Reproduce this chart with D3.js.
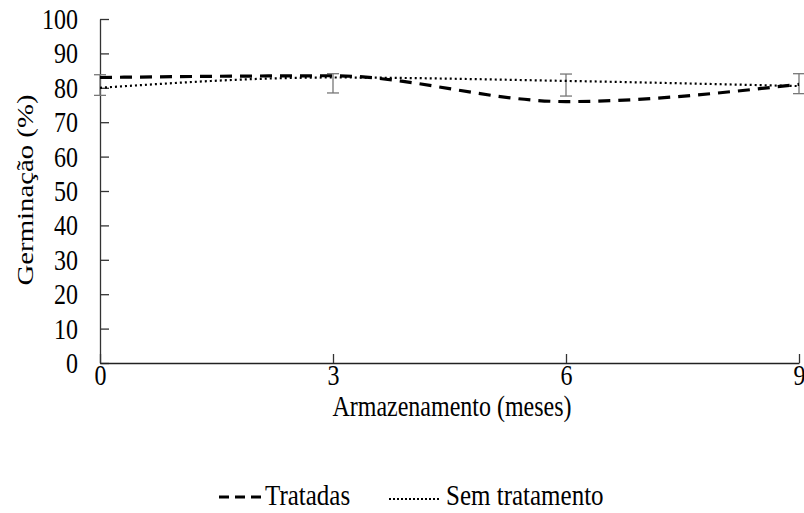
<!DOCTYPE html>
<html><head><meta charset="utf-8">
<script src="https://cdn.jsdelivr.net/npm/d3@7"></script>
</head><body style="margin:0;background:#fff">
<svg id="c" width="804" height="513" style="display:block"></svg>
<script>
const months = [0, 3, 6, 9];
const tratadas = [83, 83.5, 76, 81];
const semTratamento = [80, 83, 82, 80.5];
const errCenter = [80.8, 81.3, 80.8, 81.2];
const errHalf = [3, 2.8, 3.2, 2.9];
const yTicks = [0,10,20,30,40,50,60,70,80,90,100];
const xTicks = [0,3,6,9];
const seriesNames = ["Tratadas", "Sem tratamento"];

const FONT = "Liberation Serif";
const FS = 24, VS = 1.2;
const svg = d3.select("#c");
const x = d3.scaleLinear().domain([0,9]).range([100,799]);
const y = d3.scaleLinear().domain([0,100]).range([363,19]);

function label(px, py, str, size, anchor, rot) {
  return svg.append("text")
    .attr("transform", rot ? `translate(${px},${py}) rotate(-90) scale(${VS},1)` : `translate(${px},${py}) scale(1,${VS})`)
    .attr("text-anchor", anchor)
    .attr("font-family", FONT).style("font-family", FONT).style("font-size", size + "px").style("fill", "#000")
    .text(str);
}

const yAxis = d3.axisLeft(y).tickValues(yTicks).tickSize(-9).tickPadding(22).tickSizeOuter(0);
const gy = svg.append("g").attr("transform","translate(100,0)").call(yAxis);
gy.attr("font-family", FONT);
gy.select(".domain").attr("stroke","#333").attr("stroke-width",1.3);
gy.selectAll(".tick line").attr("stroke","#333").attr("stroke-width",1.3);
gy.selectAll(".tick text")
  .attr("font-family", FONT).style("font-family", FONT).style("font-size", FS + "px").attr("fill","#000")
  .attr("x", -22).attr("y", 0).attr("dy", "0.33em")
  .attr("transform", `scale(1,${VS})`);

const xAxis = d3.axisBottom(x).tickValues(xTicks).tickSize(-9).tickPadding(12).tickSizeOuter(0);
const gx = svg.append("g").attr("transform","translate(0,363)").call(xAxis);
gx.attr("font-family", FONT);
gx.select(".domain").attr("stroke","#222").attr("stroke-width",1.6);
gx.selectAll(".tick line").attr("stroke","#333").attr("stroke-width",1.3);
gx.selectAll(".tick text")
  .attr("font-family", FONT).style("font-family", FONT).style("font-size", FS + "px").attr("fill","#000")
  .attr("y", 22 / VS).attr("dy", 0)
  .attr("transform", `scale(1,${VS})`);

const eg = svg.append("g").attr("stroke","#777").attr("stroke-width",1.3);
months.forEach((m,i)=>{
  const cx = x(m), t = y(errCenter[i]+errHalf[i]), b = y(errCenter[i]-errHalf[i]);
  eg.append("line").attr("x1",cx).attr("x2",cx).attr("y1",t).attr("y2",b);
  eg.append("line").attr("x1",cx-6).attr("x2",cx+6).attr("y1",t).attr("y2",t);
  eg.append("line").attr("x1",cx-6).attr("x2",cx+6).attr("y1",b).attr("y2",b);
});

const line = d3.line().x(d=>x(d[0])).y(d=>y(d[1])).curve(d3.curveMonotoneX);
svg.append("path").datum(months.map((m,i)=>[m,semTratamento[i]]))
  .attr("d",line).attr("fill","none").attr("stroke","#000").attr("stroke-width",2.2).attr("stroke-dasharray","2,3");
svg.append("path").datum(months.map((m,i)=>[m,tratadas[i]]))
  .attr("d",line).attr("fill","none").attr("stroke","#000").attr("stroke-width",3.2).attr("stroke-dasharray","12,8");

label(452, 416, "Armazenamento (meses)", FS, "middle", false);
label(33, 190, "Germinação (%)", FS, "middle", true);

const lg = svg.append("g");
lg.append("line").attr("x1",219).attr("x2",262).attr("y1",497).attr("y2",497).attr("stroke","#000").attr("stroke-width",3.2).attr("stroke-dasharray","10,6");
label(265, 505, seriesNames[0], 25, "start", false);
lg.append("line").attr("x1",389).attr("x2",441).attr("y1",499).attr("y2",499).attr("stroke","#000").attr("stroke-width",2).attr("stroke-dasharray","2,2");
label(446, 505, seriesNames[1], 25, "start", false);
</script>
</body></html>
